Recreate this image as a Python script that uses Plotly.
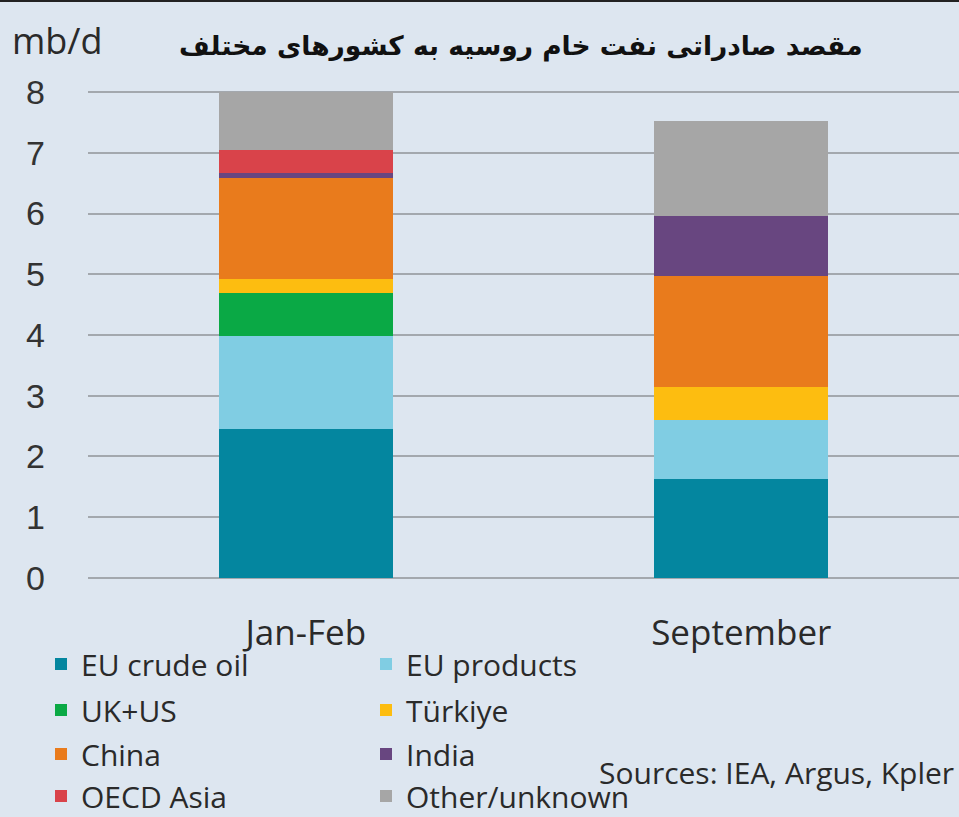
import plotly.graph_objects as go

periods = ["Jan-Feb", "September"]
series_names = ["EU crude oil", "EU products", "UK+US", "Türkiye", "China", "India", "OECD Asia", "Other/unknown"]
eu_crude = [2.45, 1.63]
eu_products = [1.53, 0.97]
uk_us = [0.71, 0.0]
turkiye = [0.23, 0.55]
china = [1.66, 1.82]
india = [0.08, 0.99]
oecd_asia = [0.39, 0.0]
other = [0.95, 1.57]
y_ticks = [0, 1, 2, 3, 4, 5, 6, 7, 8]

values = [eu_crude, eu_products, uk_us, turkiye, china, india, oecd_asia, other]
colors = ["#04869f", "#80cde3", "#0aa945", "#fdbd10", "#e97b1c", "#684680", "#d9434a", "#a6a6a6"]

W, H = 959, 817
ML, MR, MT, MB = 88, 0, 86, 233
plot_h = H - MT - MB
plot_w = W - ML - MR

def py(px):
    return (H - MB - px) / plot_h

def pxx(px):
    return (px - ML) / plot_w

# legend placement: (text-left x, center y) in pixels
leg_pos = [(83, 664), (408, 664), (83, 710), (408, 710), (83, 754), (408, 754), (83, 796), (408, 796)]

fig = go.Figure()
layout_legends = {}
for i, (name, vals, col) in enumerate(zip(series_names, values, colors)):
    lname = "legend" if i == 0 else f"legend{i+1}"
    fig.add_trace(go.Bar(
        x=periods, y=vals, name=name, marker=dict(color=col, line=dict(width=0)),
        width=0.4, legend=lname,
    ))
    tx, ty = leg_pos[i]
    layout_legends[lname] = dict(
        x=pxx(tx - 42), y=py(ty), xanchor="left", yanchor="middle",
        bgcolor="rgba(0,0,0,0)", borderwidth=0,
        font=dict(family="Open Sans", size=30, color="#2a2a2a"),
        itemwidth=30, tracegroupgap=0,
    )

fig.update_layout(
    barmode="stack",
    width=W, height=H,
    margin=dict(l=ML, r=MR, t=MT, b=MB, pad=0, autoexpand=False),
    paper_bgcolor="#dde6f0",
    plot_bgcolor="#dde6f0",
    showlegend=True,
    **layout_legends,
)

fig.update_yaxes(
    range=[-0.1, 8.1], tickvals=y_ticks, showgrid=True, gridcolor="#a3a8ae", gridwidth=2,
    zeroline=False, showline=False, ticks="", automargin=False,
    tickfont=dict(family="Liberation Sans", size=34, color="#333333"),
    ticklabelstandoff=42,
)
fig.update_xaxes(
    range=[-0.5, 1.5], showgrid=False, zeroline=False, showline=False, ticks="", automargin=False,
    tickfont=dict(family="Open Sans", size=35, color="#2a2a2a"),
    ticklabelstandoff=25,
)

fig.add_annotation(
    text="<b>مقصد صادراتی نفت خام روسیه به کشورهای مختلف</b>",
    xref="paper", yref="paper", x=pxx(521), y=py(46), xanchor="center", yanchor="middle",
    showarrow=False, font=dict(family="DejaVu Sans", size=26.5, color="#111111"),
)
fig.add_annotation(
    text="mb/d", xref="paper", yref="paper", x=pxx(10), y=py(41), xanchor="left", yanchor="middle",
    showarrow=False, font=dict(family="Open Sans", size=36, color="#2a2a2a"),
)
fig.add_annotation(
    text="Sources: IEA, Argus, Kpler", xref="paper", yref="paper", x=pxx(956), y=py(772),
    xanchor="right", yanchor="middle",
    showarrow=False, font=dict(family="Open Sans", size=30, color="#2a2a2a"),
)
fig.add_shape(
    type="line", xref="paper", yref="paper", x0=pxx(0), x1=pxx(W), y0=py(1), y1=py(1),
    line=dict(color="#222222", width=2),
)

fig.write_html("out.html")
